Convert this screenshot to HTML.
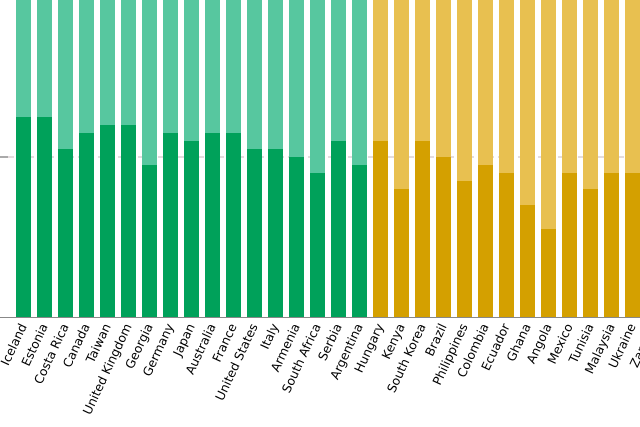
<!DOCTYPE html>
<html><head><style>body{margin:0;background:#fff}svg{display:block}</style></head><body>
<svg width="640" height="427" xmlns="http://www.w3.org/2000/svg" font-family="DejaVu Sans, Liberation Sans, sans-serif" font-size="12.3">
<line x1="0" y1="157" x2="8" y2="157" stroke="#555"/>
<line x1="8" y1="157" x2="640" y2="157" stroke="#c9b8bd" stroke-dasharray="6,4"/>
<g fill="#57c79f">
<rect x="16" y="0" width="15" height="317"/><rect x="37" y="0" width="15" height="317"/><rect x="58" y="0" width="15" height="317"/><rect x="79" y="0" width="15" height="317"/><rect x="100" y="0" width="15" height="317"/><rect x="121" y="0" width="15" height="317"/><rect x="142" y="0" width="15" height="317"/><rect x="163" y="0" width="15" height="317"/><rect x="184" y="0" width="15" height="317"/><rect x="205" y="0" width="15" height="317"/><rect x="226" y="0" width="15" height="317"/><rect x="247" y="0" width="15" height="317"/><rect x="268" y="0" width="15" height="317"/><rect x="289" y="0" width="15" height="317"/><rect x="310" y="0" width="15" height="317"/><rect x="331" y="0" width="15" height="317"/><rect x="352" y="0" width="15" height="317"/>
</g>
<g fill="#e8c050">
<rect x="373" y="0" width="15" height="317"/><rect x="394" y="0" width="15" height="317"/><rect x="415" y="0" width="15" height="317"/><rect x="436" y="0" width="15" height="317"/><rect x="457" y="0" width="15" height="317"/><rect x="478" y="0" width="15" height="317"/><rect x="499" y="0" width="15" height="317"/><rect x="520" y="0" width="15" height="317"/><rect x="541" y="0" width="15" height="317"/><rect x="562" y="0" width="15" height="317"/><rect x="583" y="0" width="15" height="317"/><rect x="604" y="0" width="15" height="317"/><rect x="625" y="0" width="15" height="317"/>
</g>
<g fill="#00a15a">
<rect x="16" y="117" width="15" height="200"/><rect x="37" y="117" width="15" height="200"/><rect x="58" y="149" width="15" height="168"/><rect x="79" y="133" width="15" height="184"/><rect x="100" y="125" width="15" height="192"/><rect x="121" y="125" width="15" height="192"/><rect x="142" y="165" width="15" height="152"/><rect x="163" y="133" width="15" height="184"/><rect x="184" y="141" width="15" height="176"/><rect x="205" y="133" width="15" height="184"/><rect x="226" y="133" width="15" height="184"/><rect x="247" y="149" width="15" height="168"/><rect x="268" y="149" width="15" height="168"/><rect x="289" y="157" width="15" height="160"/><rect x="310" y="173" width="15" height="144"/><rect x="331" y="141" width="15" height="176"/><rect x="352" y="165" width="15" height="152"/>
</g>
<g fill="#d4a000">
<rect x="373" y="141" width="15" height="176"/><rect x="394" y="189" width="15" height="128"/><rect x="415" y="141" width="15" height="176"/><rect x="436" y="157" width="15" height="160"/><rect x="457" y="181" width="15" height="136"/><rect x="478" y="165" width="15" height="152"/><rect x="499" y="173" width="15" height="144"/><rect x="520" y="205" width="15" height="112"/><rect x="541" y="229" width="15" height="88"/><rect x="562" y="173" width="15" height="144"/><rect x="583" y="189" width="15" height="128"/><rect x="604" y="173" width="15" height="144"/><rect x="625" y="173" width="15" height="144"/>
</g>
<line x1="0" y1="317.5" x2="640" y2="317.5" stroke="#888"/>
<g text-anchor="end" fill="#000">
<text transform="translate(27,326) rotate(-65)">Iceland</text>
<text transform="translate(48,326) rotate(-65)">Estonia</text>
<text transform="translate(69,326) rotate(-65)">Costa Rica</text>
<text transform="translate(90,326) rotate(-65)">Canada</text>
<text transform="translate(111,326) rotate(-65)">Taiwan</text>
<text transform="translate(132,326) rotate(-65)">United Kingdom</text>
<text transform="translate(153,326) rotate(-65)">Georgia</text>
<text transform="translate(174,326) rotate(-65)">Germany</text>
<text transform="translate(195,326) rotate(-65)">Japan</text>
<text transform="translate(216,326) rotate(-65)">Australia</text>
<text transform="translate(237,326) rotate(-65)">France</text>
<text transform="translate(258,326) rotate(-65)">United States</text>
<text transform="translate(279,326) rotate(-65)">Italy</text>
<text transform="translate(300,326) rotate(-65)">Armenia</text>
<text transform="translate(321,326) rotate(-65)">South Africa</text>
<text transform="translate(342,326) rotate(-65)">Serbia</text>
<text transform="translate(363,326) rotate(-65)">Argentina</text>
<text transform="translate(384,326) rotate(-65)">Hungary</text>
<text transform="translate(405,326) rotate(-65)">Kenya</text>
<text transform="translate(426,326) rotate(-65)">South Korea</text>
<text transform="translate(447,326) rotate(-65)">Brazil</text>
<text transform="translate(468,326) rotate(-65)">Philippines</text>
<text transform="translate(489,326) rotate(-65)">Colombia</text>
<text transform="translate(510,326) rotate(-65)">Ecuador</text>
<text transform="translate(531,326) rotate(-65)">Ghana</text>
<text transform="translate(552,326) rotate(-65)">Angola</text>
<text transform="translate(573,326) rotate(-65)">Mexico</text>
<text transform="translate(594,326) rotate(-65)">Tunisia</text>
<text transform="translate(615,326) rotate(-65)">Malaysia</text>
<text transform="translate(636,326) rotate(-65)">Ukraine</text>
<text transform="translate(657,326) rotate(-65)">Zambia</text>
</g>
</svg>
</body></html>
